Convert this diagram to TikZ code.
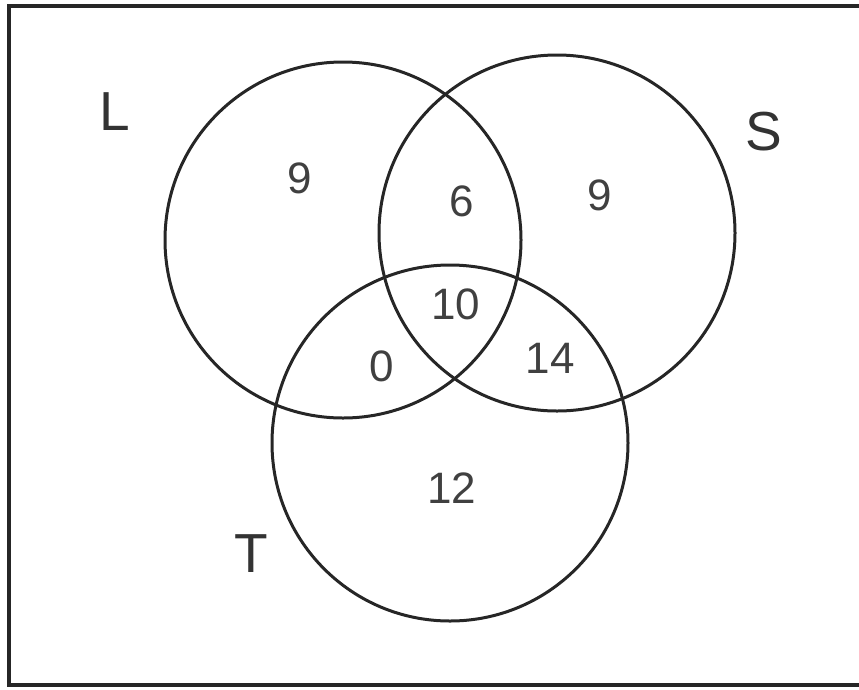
\documentclass[tikz,border=0pt]{standalone}
\usepackage{fontspec}
\setmainfont{Liberation Sans}
\usepackage{tikz}

\begin{document}
\begin{tikzpicture}[
      x=1pt, y=-1pt,
      setc/.style={draw=black!85, line width=3pt, circle, minimum size=356pt,
                   inner sep=0pt},
      setname/.style={text=black!80, font=\fontsize{55}{60}\selectfont, inner sep=0pt},
      num/.style={text=black!75, font=\fontsize{44}{50}\selectfont, inner sep=0pt},
    ]
    \useasboundingbox (0,0) rectangle (859,689);
    \draw[draw=black!85, line width=3.5pt] (9,6) rectangle (864,685);
    \node[setc] (L) at (343,240) {};
    \node[setc] (S) at (557,233) {};
    \node[setc] (T) at (450,443) {};
    \node[setname] (lblL) at (115,112) {L};
    \node[setname] (lblS) at (764,132) {S};
    \node[setname] (lblT) at (251,554) {T};
    \node[num] (onlyL)  at (300,178) {9};
    \node[num] (LS)     at (462,201) {6};
    \node[num] (onlyS)  at (600,195) {9};
    \node[num] (LST)    at (456,304) {10};
    \node[num] (LT)     at (382,366) {0};
    \node[num] (ST)     at (550,358) {14};
    \node[num] (onlyT)  at (452,488) {12};
  \end{tikzpicture}
\end{document}
